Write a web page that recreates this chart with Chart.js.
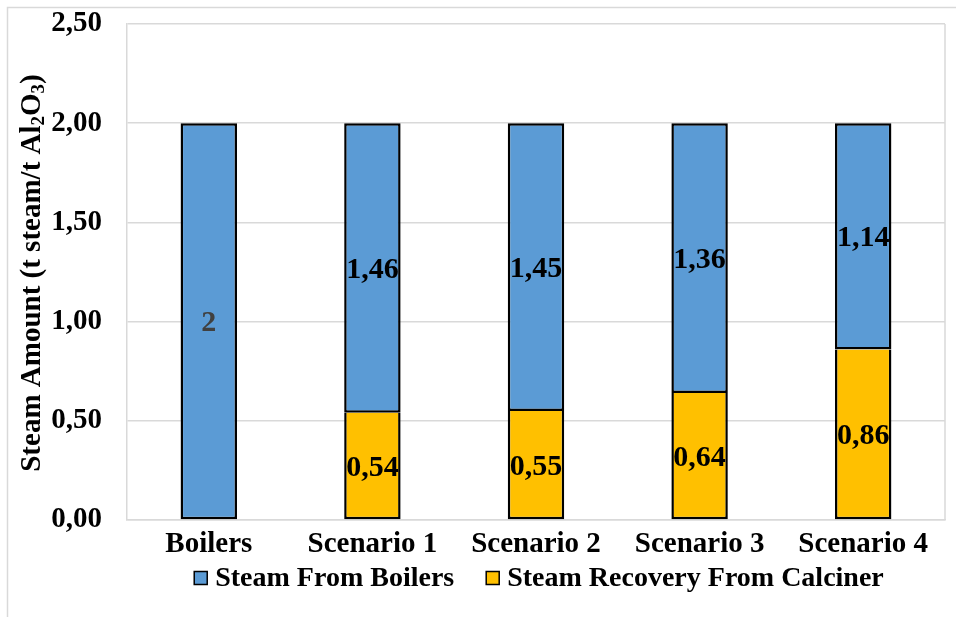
<!DOCTYPE html>
<html>
<head>
<meta charset="utf-8">
<script src="https://cdn.jsdelivr.net/npm/chart.js@4"></script>
<style>
  html, body { margin: 0; padding: 0; background: #ffffff; }
  #wrap { width: 956px; height: 617px; }
</style>
</head>
<body>
<div id="wrap"><canvas id="c" width="956" height="617"></canvas></div>
<script>
// Steam supply per tonne of alumina, by configuration
const categories = ['Boilers', 'Scenario 1', 'Scenario 2', 'Scenario 3', 'Scenario 4'];
const steamFromBoilers = [2, 1.46, 1.45, 1.36, 1.14];
const steamRecoveryCalciner = [0, 0.54, 0.55, 0.64, 0.86];
const yTicks = [0, 0.5, 1, 1.5, 2, 2.5];

const FONT = '"Liberation Serif", "Times New Roman", serif';
const GRID = '#d9d9d9';

function fmtComma(v) {
  return v.toFixed(2).replace('.', ',');
}

// Values written in the middle of each stacked segment
const segmentLabels = {
  id: 'segmentLabels',
  afterDatasetsDraw(chart) {
    const ctx = chart.ctx;
    ctx.save();
    ctx.font = 'bold 30px ' + FONT;
    ctx.textAlign = 'center';
    ctx.textBaseline = 'middle';
    chart.data.datasets.forEach((ds, di) => {
      const meta = chart.getDatasetMeta(di);
      meta.data.forEach((bar, i) => {
        const v = ds.data[i];
        if (!v) return;
        const p = bar.getProps(['x', 'y', 'base'], true);
        const text = Number.isInteger(v) ? String(v) : fmtComma(v);
        ctx.fillStyle = Number.isInteger(v) ? '#404040' : '#000000';
        ctx.fillText(text, p.x, (p.y + p.base) / 2 + 2);
      });
    });
    ctx.restore();
  }
};

// Outer frame, right edge of the plot box, y-axis title with subscripts and legend row
const frameTitleLegend = {
  id: 'frameTitleLegend',
  beforeDraw(chart) {
    const ctx = chart.ctx;
    ctx.save();
    ctx.strokeStyle = GRID;
    ctx.lineWidth = 1.5;
    ctx.beginPath();
    ctx.moveTo(7.5, 617);
    ctx.lineTo(7.5, 7.5);
    ctx.lineTo(956, 7.5);
    ctx.stroke();
    ctx.restore();
  },
  afterDraw(chart) {
    const ctx = chart.ctx;
    const a = chart.chartArea;
    ctx.save();
    ctx.strokeStyle = GRID;
    ctx.lineWidth = 1.5;
    ctx.beginPath();
    ctx.moveTo(a.right, a.top);
    ctx.lineTo(a.right, a.bottom);
    ctx.stroke();

    // y-axis title
    const parts = [
      { t: 'Steam Amount (t steam/t Al', sub: false },
      { t: '2', sub: true },
      { t: 'O', sub: false },
      { t: '3', sub: true },
      { t: ')', sub: false }
    ];
    const big = 'bold 29px ' + FONT;
    const small = 'bold 19px ' + FONT;
    let total = 0;
    parts.forEach(p => { ctx.font = p.sub ? small : big; p.w = ctx.measureText(p.t).width; total += p.w; });
    ctx.save();
    ctx.translate(30, 273);
    ctx.rotate(-Math.PI / 2);
    ctx.fillStyle = '#000000';
    ctx.textBaseline = 'alphabetic';
    ctx.textAlign = 'left';
    let x = -total / 2;
    parts.forEach(p => {
      ctx.font = p.sub ? small : big;
      ctx.fillText(p.t, x, p.sub ? 14 : 10);
      x += p.w;
    });
    ctx.restore();

    // legend row: series listed top of stack first
    const items = chart.data.datasets.slice().reverse();
    ctx.font = 'bold 28px ' + FONT;
    ctx.textBaseline = 'middle';
    ctx.textAlign = 'left';
    const y = 579;
    const box = 13, gapText = 8, gapItem = 32;
    let width = 0;
    items.forEach((ds, i) => {
      width += box + gapText + ctx.measureText(ds.label).width + (i < items.length - 1 ? gapItem : 0);
    });
    let lx = (a.left + a.right) / 2 - width / 2 + 3;
    items.forEach(ds => {
      ctx.fillStyle = ds.backgroundColor;
      ctx.fillRect(lx, y - box / 2 - 1, box, box);
      ctx.strokeStyle = '#000000';
      ctx.lineWidth = 1.5;
      ctx.strokeRect(lx, y - box / 2 - 1, box, box);
      ctx.fillStyle = '#000000';
      ctx.fillText(ds.label, lx + box + gapText, y);
      lx += box + gapText + ctx.measureText(ds.label).width + gapItem;
    });
    ctx.restore();
  }
};

new Chart(document.getElementById('c'), {
  type: 'bar',
  data: {
    labels: categories,
    datasets: [
      {
        label: 'Steam Recovery From Calciner',
        data: steamRecoveryCalciner,
        backgroundColor: '#FFC000',
        borderColor: '#000000',
        borderWidth: 2.5,
        borderSkipped: 'top',
        categoryPercentage: 1,
        barPercentage: 0.345
      },
      {
        label: 'Steam From Boilers',
        data: steamFromBoilers,
        backgroundColor: '#5B9BD5',
        borderColor: '#000000',
        borderWidth: 2.5,
        borderSkipped: false,
        categoryPercentage: 1,
        barPercentage: 0.345
      }
    ]
  },
  options: {
    responsive: false,
    animation: false,
    layout: { padding: { left: 8, right: 11, top: 24, bottom: 56 } },
    plugins: {
      tooltip: { enabled: false },
      legend: { display: false }
    },
    scales: {
      x: {
        stacked: true,
        afterFit(s) { s.height = 41; s.paddingLeft = 0; s.paddingRight = 0; },
        grid: { display: false, drawTicks: false },
        border: { display: true, color: GRID, width: 1.5 },
        ticks: {
          color: '#000000',
          font: { family: FONT, size: 29, weight: 'bold' },
          padding: 7,
          maxRotation: 0
        }
      },
      y: {
        stacked: true,
        min: 0,
        max: 2.5,
        afterFit(s) { s.width = 119; s.paddingTop = 0; s.paddingBottom = 0; },
        afterBuildTicks(s) { s.ticks = yTicks.map(v => ({ value: v })); },
        grid: { color: GRID, lineWidth: 1.5, drawTicks: false },
        border: { display: true, color: GRID, width: 1.5 },
        ticks: {
          color: '#000000',
          font: { family: FONT, size: 29, weight: 'bold' },
          padding: 25,
          callback: v => fmtComma(v)
        }
      }
    }
  },
  plugins: [segmentLabels, frameTitleLegend]
});
</script>
</body>
</html>
